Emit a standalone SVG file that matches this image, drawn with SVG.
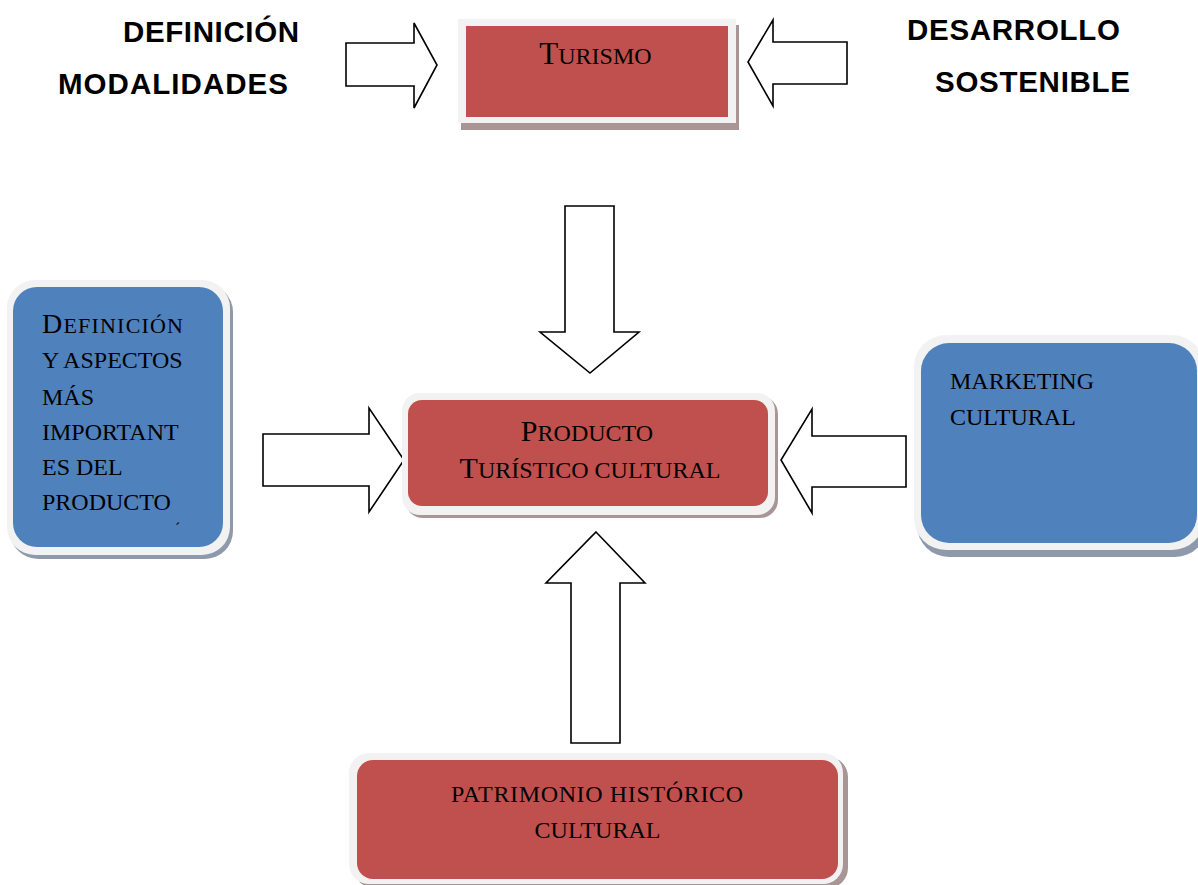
<svg xmlns="http://www.w3.org/2000/svg" width="1198" height="885" viewBox="0 0 1198 885">
<style>
.frame{fill:#F2F2F2;}
.shr{fill:#A99595;}
.shb{fill:#8E9AAB;}
.red{fill:#C0504D;}
.blue{fill:#4F81BD;}
.arrow{fill:#FFFFFF;stroke:#000000;stroke-width:1.6;stroke-linejoin:miter;}
.serif{font-family:"Liberation Serif","Times New Roman",serif;fill:#000000;}
.bold{font-family:"Liberation Sans",Arial,sans-serif;font-weight:bold;font-size:29.5px;fill:#000000;}
</style>
<rect width="1198" height="885" fill="#FFFFFF"/>

<g id="labels-top">
  <text class="bold" x="123" y="42" textLength="176" lengthAdjust="spacing">DEFINICIÓN</text>
  <text class="bold" x="58" y="94" textLength="230" lengthAdjust="spacing">MODALIDADES</text>
  <text class="bold" x="907" y="40" textLength="213" lengthAdjust="spacing">DESARROLLO</text>
  <text class="bold" x="935" y="92" textLength="195" lengthAdjust="spacing">SOSTENIBLE</text>
</g>

<g id="connectors">
  <polygon class="arrow" points="346,43 414,43 414,23 437,65 414,108 414,86 346,86"/>
  <polygon class="arrow" points="847,42 773,42 773,20 748,62 773,106 773,84 847,84"/>
  <polygon class="arrow" points="565,206 614,206 614,332 639,332 590,373 540,332 565,332"/>
  <polygon class="arrow" points="263,434 369,434 369,408 404,460 369,512 369,486 263,486"/>
  <polygon class="arrow" points="906,436 812,436 812,409 781,460 812,513 812,487 906,487"/>
  <polygon class="arrow" points="596,532 645,583 620,583 620,743 571,743 571,583 546,583"/>
</g>

<g id="turismo">
  <rect class="shr" x="461" y="25" width="278" height="105"/>
  <rect class="frame" x="458" y="19" width="278" height="104"/>
  <rect class="red" x="466" y="26" width="262" height="91"/>
  <text class="serif" x="595.5" y="64" text-anchor="middle"><tspan font-size="31">T</tspan><tspan font-size="24">URISMO</tspan></text>
</g>

<g id="producto">
  <rect class="shr" x="405" y="396" width="373" height="122" rx="18"/>
  <rect class="frame" x="402" y="393" width="373" height="122" rx="18"/>
  <rect class="red" x="408" y="400" width="360" height="106" rx="14"/>
  <text class="serif" x="587" y="441" text-anchor="middle"><tspan font-size="30">P</tspan><tspan font-size="24">RODUCTO</tspan></text>
  <text class="serif" x="590" y="478" text-anchor="middle"><tspan font-size="30">T</tspan><tspan font-size="24">URÍSTICO CULTURAL</tspan></text>
</g>

<g id="definicion">
  <rect class="shb" x="10" y="284" width="223" height="275" rx="28"/>
  <rect class="frame" x="7" y="280" width="223" height="275" rx="28"/>
  <rect class="blue" x="13" y="287" width="210" height="260" rx="24"/>
  <text class="serif" x="42" y="333" textLength="141" lengthAdjust="spacing"><tspan font-size="28">D</tspan><tspan font-size="22">EFINICIÓN</tspan></text>
  <text class="serif" x="42" y="368" font-size="24">Y ASPECTOS</text>
  <text class="serif" x="42" y="405" font-size="24">MÁS</text>
  <text class="serif" x="42" y="440" font-size="24">IMPORTANT</text>
  <text class="serif" x="42" y="475" font-size="24">ES DEL</text>
  <text class="serif" x="42" y="510" font-size="24">PRODUCTO</text>
  <text class="serif" x="175" y="534" font-size="16">´</text>
</g>

<g id="marketing">
  <rect class="shb" x="917" y="340" width="290" height="217" rx="32"/>
  <rect class="frame" x="914" y="335" width="290" height="215" rx="32"/>
  <rect class="blue" x="921" y="343" width="276" height="200" rx="28"/>
  <text class="serif" x="950" y="389" font-size="24">MARKETING</text>
  <text class="serif" x="950" y="425" font-size="24">CULTURAL</text>
</g>

<g id="patrimonio">
  <rect class="shr" x="354" y="757" width="494" height="131" rx="20"/>
  <rect class="frame" x="349" y="753" width="494" height="131" rx="20"/>
  <rect class="red" x="357" y="760" width="481" height="119" rx="16"/>
  <text class="serif" x="451" y="802" font-size="24" textLength="292" lengthAdjust="spacing">PATRIMONIO HISTÓRICO</text>
  <text class="serif" x="597.5" y="838" font-size="24" text-anchor="middle">CULTURAL</text>
</g>
</svg>
